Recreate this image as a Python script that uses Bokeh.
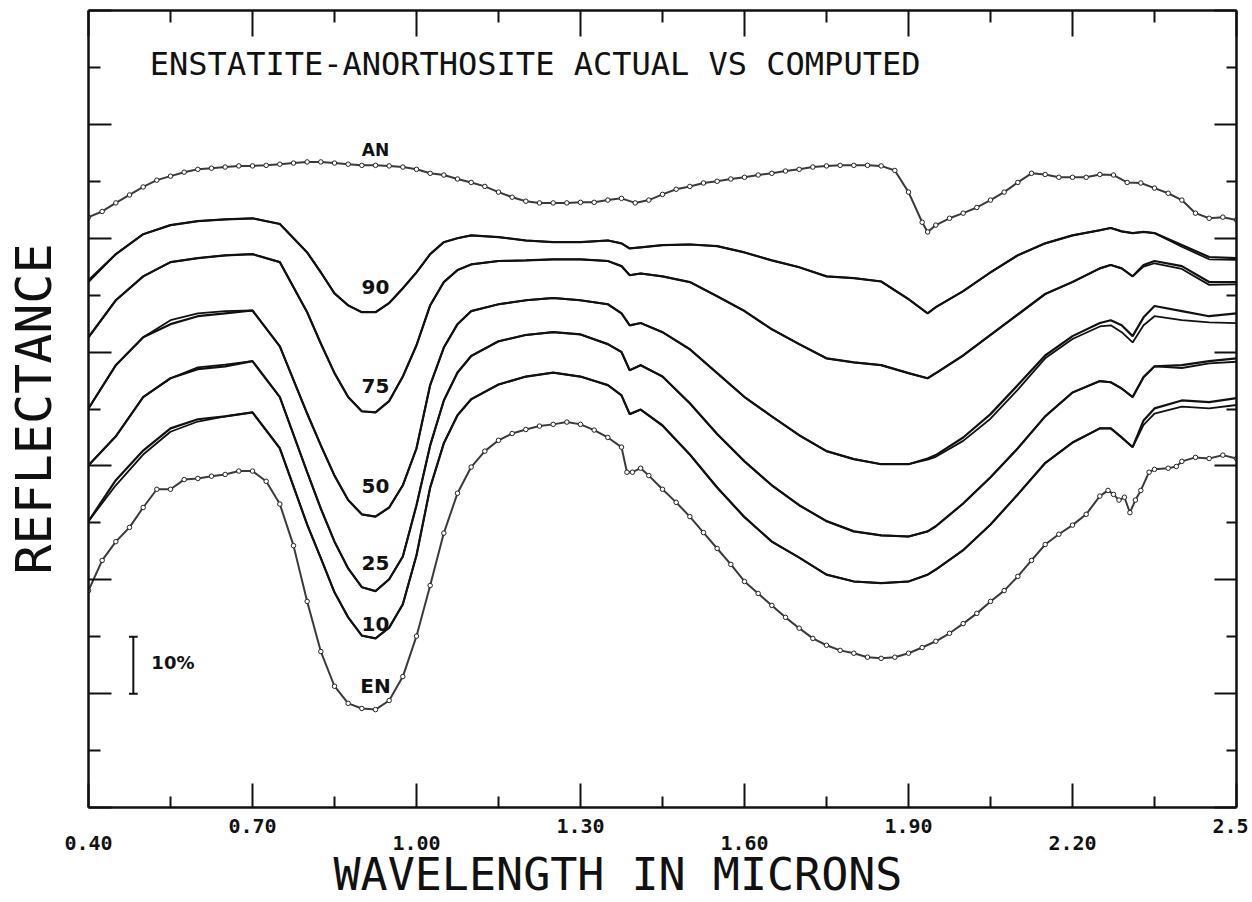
from bokeh.plotting import figure
from bokeh.models import Range1d, LinearAxis, FixedTicker, Label, Title
from bokeh.embed import file_html
from bokeh.resources import INLINE

# ---------------- data (reflectance in %, curves offset as in the figure) -------------
wl_grid = [0.40, 0.45, 0.50, 0.55, 0.60, 0.65, 0.70, 0.75, 0.80, 0.825, 0.85, 0.875,
           0.90, 0.925, 0.95, 0.975, 1.00, 1.025, 1.05, 1.075, 1.10, 1.15, 1.20, 1.25,
           1.30, 1.35, 1.375, 1.39, 1.41, 1.45, 1.50, 1.55, 1.60, 1.65, 1.70, 1.75,
           1.80, 1.85, 1.90, 1.935, 1.95, 2.00, 2.05, 2.10, 2.15, 2.20, 2.25, 2.27,
           2.29, 2.31, 2.33, 2.35, 2.40, 2.45, 2.50]

r90_act = [92.6, 97.2, 100.7, 102.3, 103.0, 103.3, 103.5, 102.5, 97.5, 94.0, 90.3, 88.2, 87.0, 87.0, 88.6, 91.2, 94.0, 97.2, 99.3, 100.0, 100.5, 100.2, 99.6, 99.3, 99.3, 99.6, 99.1, 98.2, 98.4, 98.8, 98.9, 98.6, 97.5, 96.1, 94.9, 93.3, 93.0, 92.4, 89.3, 86.8, 87.9, 90.7, 94.0, 97.0, 99.1, 100.5, 101.4, 101.8, 101.2, 100.9, 101.1, 100.9, 98.8, 96.7, 96.5]
r90_calc = [92.3, 97.2, 100.7, 102.3, 103.0, 103.3, 103.5, 102.5, 97.5, 94.0, 90.3, 88.2, 87.0, 87.0, 88.6, 91.2, 94.0, 97.2, 99.3, 100.0, 100.5, 100.2, 99.6, 99.3, 99.3, 99.6, 99.1, 98.2, 98.4, 98.8, 98.9, 98.6, 97.5, 96.1, 94.9, 93.3, 93.0, 92.4, 89.3, 86.8, 87.9, 90.7, 94.0, 97.0, 99.1, 100.5, 101.4, 101.8, 101.2, 100.9, 101.1, 100.9, 98.5, 96.3, 96.2]

r75_act = [82.6, 89.1, 93.3, 95.8, 96.5, 97.0, 97.2, 95.8, 87.0, 81.5, 76.3, 72.1, 69.6, 69.4, 71.4, 75.7, 81.2, 88.2, 92.3, 94.4, 95.4, 96.0, 96.1, 96.3, 96.3, 96.0, 95.1, 93.5, 93.8, 93.3, 92.3, 89.8, 87.2, 84.0, 81.4, 78.9, 78.2, 77.7, 76.3, 75.4, 76.3, 79.4, 83.0, 86.6, 90.2, 92.3, 94.7, 95.3, 94.7, 93.3, 95.3, 96.0, 95.1, 92.3, 92.3]
r75_calc = [82.6, 89.1, 93.3, 95.8, 96.5, 97.0, 97.2, 95.8, 87.0, 81.5, 76.3, 72.1, 69.6, 69.4, 71.4, 75.7, 81.2, 88.2, 92.3, 94.4, 95.4, 96.0, 96.1, 96.3, 96.3, 96.0, 95.1, 93.5, 93.8, 93.3, 92.3, 89.8, 87.2, 84.0, 81.4, 78.9, 78.2, 77.7, 76.3, 75.4, 76.3, 79.4, 83.0, 86.6, 90.2, 92.3, 94.7, 95.3, 94.7, 93.3, 95.0, 95.6, 94.6, 91.8, 91.9]

r50_act = [70.1, 77.7, 82.6, 84.9, 86.3, 86.8, 87.3, 81.0, 69.2, 63.6, 58.3, 54.0, 51.5, 51.1, 52.7, 56.6, 63.1, 74.2, 80.8, 84.9, 87.2, 88.4, 89.1, 89.5, 89.1, 88.4, 86.8, 84.7, 85.1, 83.5, 80.5, 76.3, 72.1, 68.7, 65.4, 62.6, 61.2, 60.3, 60.3, 61.3, 61.9, 65.0, 69.1, 74.2, 79.4, 82.8, 85.1, 85.6, 84.7, 82.8, 86.1, 88.1, 87.2, 86.3, 86.8]
r50_calc = [70.1, 77.7, 82.6, 85.6, 86.8, 87.2, 87.3, 81.0, 69.2, 63.6, 58.3, 54.0, 51.5, 51.1, 52.7, 56.6, 63.1, 74.2, 80.8, 84.9, 87.2, 88.4, 89.1, 89.5, 89.1, 88.4, 86.8, 84.7, 85.1, 83.5, 80.5, 76.3, 72.1, 68.7, 65.4, 62.6, 61.2, 60.3, 60.3, 61.1, 61.6, 64.4, 68.3, 73.4, 78.9, 82.3, 84.5, 84.7, 83.5, 81.7, 84.7, 86.3, 85.6, 85.2, 85.1]

r25_act = [60.1, 65.2, 72.1, 75.4, 77.0, 77.5, 78.4, 72.1, 58.9, 52.5, 46.7, 42.0, 38.7, 38.0, 40.1, 44.1, 53.1, 63.6, 71.5, 76.4, 79.3, 81.9, 83.0, 83.5, 83.1, 81.4, 80.0, 76.8, 77.7, 75.7, 71.0, 65.6, 60.8, 56.6, 53.1, 50.3, 48.5, 47.8, 47.6, 48.5, 49.4, 53.4, 58.0, 63.1, 68.7, 72.9, 74.9, 74.7, 73.6, 72.1, 75.6, 77.5, 77.7, 78.4, 78.9]
r25_calc = [60.1, 65.2, 72.1, 75.4, 77.3, 77.8, 78.4, 72.1, 58.9, 52.5, 46.7, 42.0, 38.7, 38.0, 40.1, 44.1, 53.1, 63.6, 71.5, 76.4, 79.3, 81.9, 83.0, 83.5, 83.1, 81.4, 80.0, 76.8, 77.7, 75.7, 71.0, 65.6, 60.8, 56.6, 53.1, 50.3, 48.5, 47.8, 47.6, 48.5, 49.4, 53.4, 58.0, 63.1, 68.7, 72.9, 74.9, 74.7, 73.6, 72.1, 75.6, 77.5, 77.2, 78.0, 78.3]

r10_act = [50.3, 57.5, 62.7, 66.6, 68.2, 68.7, 69.4, 63.1, 49.7, 43.8, 37.8, 33.4, 30.2, 29.7, 31.6, 35.7, 44.3, 56.2, 64.0, 68.9, 71.7, 74.3, 75.7, 76.4, 75.7, 74.2, 72.4, 69.1, 69.9, 67.1, 62.0, 56.2, 51.0, 46.7, 43.9, 40.9, 39.7, 39.4, 39.7, 40.9, 41.8, 45.2, 49.7, 55.0, 60.5, 64.1, 66.6, 66.6, 65.0, 63.3, 68.0, 70.1, 71.5, 71.2, 71.9]
r10_calc = [50.3, 56.6, 62.0, 66.0, 67.8, 68.7, 69.4, 63.1, 49.7, 43.8, 37.8, 33.4, 30.2, 29.7, 31.6, 35.7, 44.3, 56.2, 64.0, 68.9, 71.7, 74.3, 75.7, 76.4, 75.7, 74.2, 72.4, 69.1, 69.9, 67.1, 62.0, 56.2, 51.0, 46.7, 43.9, 40.9, 39.7, 39.4, 39.7, 40.9, 41.8, 45.2, 49.7, 55.0, 60.5, 64.1, 66.6, 66.6, 65.0, 63.3, 67.2, 69.2, 70.4, 70.1, 70.7]

wl_an = [0.400, 0.425, 0.450, 0.475, 0.500, 0.525, 0.550, 0.575, 0.600, 0.625, 0.650, 0.675,
         0.700, 0.725, 0.750, 0.775, 0.800, 0.825, 0.850, 0.875, 0.900, 0.925, 0.950, 0.975,
         1.000, 1.025, 1.050, 1.075, 1.100, 1.125, 1.150, 1.175, 1.200, 1.225, 1.250, 1.275,
         1.300, 1.325, 1.350, 1.375, 1.400, 1.425, 1.450, 1.475, 1.500, 1.525, 1.550, 1.575,
         1.600, 1.625, 1.650, 1.675, 1.700, 1.725, 1.750, 1.775, 1.800, 1.825, 1.850, 1.875,
         1.900, 1.925, 1.935, 1.950, 1.975, 2.000, 2.025, 2.050, 2.075, 2.100, 2.125, 2.150,
         2.175, 2.200, 2.225, 2.250, 2.275, 2.300, 2.325, 2.350, 2.375, 2.400, 2.425, 2.450,
         2.475, 2.500]
an = [103.7, 104.7, 106.2, 107.6, 109.0, 110.2, 110.9, 111.6, 112.1, 112.3, 112.5, 112.7,
      112.7, 112.8, 113.0, 113.2, 113.4, 113.4, 113.2, 113.0, 112.8, 112.8, 112.7, 112.5,
      112.1, 111.4, 111.1, 110.4, 109.8, 109.1, 108.1, 107.2, 106.5, 106.2, 106.2, 106.2,
      106.3, 106.3, 106.7, 107.0, 106.2, 106.7, 107.7, 108.6, 109.1, 109.7, 110.0, 110.4,
      110.7, 111.1, 111.4, 111.8, 112.1, 112.5, 112.7, 112.8, 112.8, 112.8, 112.7, 111.9,
      108.1, 102.8, 101.1, 102.3, 103.5, 104.4, 105.4, 106.7, 108.1, 109.8, 111.4, 111.2,
      110.7, 110.7, 110.7, 111.2, 111.1, 109.8, 109.7, 108.8, 107.9, 106.7, 104.4, 103.5,
      103.7, 103.2]

wl_en = [0.400, 0.425, 0.450, 0.475, 0.500, 0.525, 0.550, 0.575, 0.600, 0.625, 0.650, 0.675,
         0.700, 0.725, 0.750, 0.775, 0.800, 0.825, 0.850, 0.875, 0.900, 0.925, 0.950, 0.975,
         1.000, 1.025, 1.050, 1.075, 1.100, 1.125, 1.150, 1.175, 1.200, 1.225, 1.250, 1.275,
         1.300, 1.325, 1.350, 1.375, 1.385, 1.395, 1.410, 1.425, 1.450, 1.475, 1.500, 1.525,
         1.550, 1.575, 1.600, 1.625, 1.650, 1.675, 1.700, 1.725, 1.750, 1.775, 1.800, 1.825,
         1.850, 1.875, 1.900, 1.925, 1.950, 1.975, 2.000, 2.025, 2.050, 2.075, 2.100, 2.125,
         2.150, 2.175, 2.200, 2.225, 2.250, 2.265, 2.275, 2.285, 2.295, 2.305, 2.315, 2.325,
         2.340, 2.350, 2.375, 2.390, 2.400, 2.425, 2.450, 2.475, 2.500]
en = [38.1, 43.4, 46.7, 49.2, 52.7, 55.9, 55.9, 57.6, 57.8, 58.2, 58.5, 59.1,
      59.1, 57.3, 53.3, 46.0, 36.2, 27.4, 21.3, 18.3, 17.4, 17.2, 18.8, 23.0,
      30.1, 39.0, 48.2, 55.2, 59.8, 62.6, 64.5, 65.7, 66.4, 67.0, 67.3, 67.7,
      67.3, 66.3, 65.0, 63.3, 58.9, 58.9, 59.6, 58.3, 55.9, 53.6, 51.1, 48.3,
      45.5, 42.7, 39.7, 37.6, 35.5, 33.4, 31.5, 29.7, 28.5, 27.6, 27.1, 26.4,
      26.2, 26.4, 27.1, 28.1, 29.2, 30.6, 32.3, 34.1, 36.2, 38.1, 40.6, 43.4,
      46.2, 48.0, 49.6, 51.5, 54.7, 55.7, 55.0, 54.0, 54.5, 51.8, 54.0, 55.7,
      58.9, 59.4, 59.6, 59.9, 60.8, 61.5, 61.3, 61.9, 61.3]

x_major = [0.40, 0.70, 1.00, 1.30, 1.60, 1.90, 2.20, 2.50]
x_minor = [0.55, 0.85, 1.15, 1.45, 1.75, 2.05, 2.35]
x_labels_upper = {0.70: "0.70", 1.30: "1.30", 1.90: "1.90", 2.50: "2.5"}
x_labels_lower = {0.40: "0.40", 1.00: "1.00", 1.60: "1.60", 2.20: "2.20"}
y_major = [0, 20, 40, 60, 80, 100, 120, 140]
y_minor = [10, 30, 50, 70, 90, 110, 130]

curve_labels = ["AN", "90", "75", "50", "25", "10", "EN"]
label_y = [115.5, 91.4, 74.0, 56.4, 42.9, 32.3, 21.4]
label_x = 0.925

INK = "#111111"
MONO = "DejaVu Sans Mono"

# ---------------- figure -----------------------------------------------------------
p = figure(width=1248, height=902, x_range=Range1d(0.40, 2.50), y_range=Range1d(0, 140),
           output_backend="svg", toolbar_location=None,
           x_axis_location=None, y_axis_location=None,
           min_border_left=88, min_border_right=12, min_border_top=10, min_border_bottom=95)
p.outline_line_color = None
p.background_fill_color = "white"
p.border_fill_color = "white"
p.grid.visible = False
p.xgrid.visible = False
p.ygrid.visible = False


def style_axis(ax, major_len, minor_len):
    ax.axis_line_color = INK
    ax.axis_line_width = 2.5
    ax.major_tick_line_color = INK
    ax.minor_tick_line_color = INK
    ax.major_tick_line_width = 2
    ax.minor_tick_line_width = 2
    ax.major_tick_in = major_len
    ax.major_tick_out = 0
    ax.minor_tick_in = minor_len
    ax.minor_tick_out = 0


xt = FixedTicker(ticks=x_major, minor_ticks=x_minor)
yt = FixedTicker(ticks=y_major, minor_ticks=y_minor)

# bottom axis (upper row of labels)
ax_b = LinearAxis(ticker=xt)
style_axis(ax_b, 24, 11)
ov = {t: "" for t in x_major}
ov.update(x_labels_upper)
ax_b.major_label_overrides = ov
ax_b.major_label_standoff = 11
ax_b.major_label_text_font = MONO
ax_b.major_label_text_font_size = "20px"
ax_b.major_label_text_font_style = "bold"
ax_b.major_label_text_color = INK
p.add_layout(ax_b, "below")

# second row of labels (staggered)
ax_b2 = LinearAxis(ticker=FixedTicker(ticks=list(x_labels_lower.keys()), minor_ticks=[]))
ax_b2.axis_line_color = None
ax_b2.major_tick_line_color = None
ax_b2.minor_tick_line_color = None
ax_b2.major_tick_in = 0
ax_b2.major_tick_out = 0
ax_b2.major_label_overrides = dict(x_labels_lower)
ax_b2.major_label_standoff = 0
ax_b2.major_label_text_font = MONO
ax_b2.major_label_text_font_size = "20px"
ax_b2.major_label_text_font_style = "bold"
ax_b2.major_label_text_color = INK
p.add_layout(ax_b2, "below")

# x axis title
p.add_layout(Title(text="WAVELENGTH IN MICRONS", align="left", offset=245, standoff=-13,
                   text_font=MONO, text_font_size="45px", text_font_style="normal",
                   text_color=INK), "below")

ax_t = LinearAxis(ticker=xt)
style_axis(ax_t, 26, 12)
ax_t.major_label_text_font_size = "0px"
ax_t.major_label_standoff = 0
ax_t.major_label_overrides = {t: "" for t in x_major}
p.add_layout(ax_t, "above")

ax_l = LinearAxis(ticker=yt)
style_axis(ax_l, 23, 12)
ax_l.major_label_text_font_size = "0px"
ax_l.major_label_standoff = 0
ax_l.major_label_overrides = {t: "" for t in y_major}
ax_l.axis_label = "REFLECTANCE"
ax_l.axis_label_standoff = 26
ax_l.axis_label_text_font = MONO
ax_l.axis_label_text_font_size = "50px"
ax_l.axis_label_text_font_style = "normal"
ax_l.axis_label_text_color = INK
p.add_layout(ax_l, "left")

ax_r = LinearAxis(ticker=yt)
style_axis(ax_r, 22, 10)
ax_r.major_label_text_font_size = "0px"
ax_r.major_label_standoff = 0
ax_r.major_label_overrides = {t: "" for t in y_major}
p.add_layout(ax_r, "right")

# ---------------- curves -----------------------------------------------------------
for act, calc in [(r90_act, r90_calc), (r75_act, r75_calc), (r50_act, r50_calc),
                  (r25_act, r25_calc), (r10_act, r10_calc)]:
    p.line(wl_grid, act, line_color=INK, line_width=2.2)
    p.line(wl_grid, calc, line_color=INK, line_width=1.8)

for wl, vals in [(wl_an, an), (wl_en, en)]:
    p.line(wl, vals, line_color="#3a3a3a", line_width=2.0)
    p.scatter(wl, vals, marker="circle", size=4.5, line_color="#222222",
              fill_color="white", line_width=1.0)

# ---------------- curve labels -----------------------------------------------------
for txt, yy in zip(curve_labels, label_y):
    p.add_layout(Label(x=label_x, y=yy, text=txt, text_align="center",
                       text_baseline="middle", text_font="DejaVu Sans",
                       text_font_style="bold",
                       text_font_size="17px" if txt == "AN" else "20px",
                       text_color=INK))

# 10 % scale bar
p.segment(x0=[0.482], y0=[20], x1=[0.482], y1=[30], line_color=INK, line_width=2)
p.segment(x0=[0.474, 0.474], y0=[20, 30], x1=[0.490, 0.490], y1=[20, 30],
          line_color=INK, line_width=2)
p.add_layout(Label(x=0.515, y=25.5, text="10%", text_align="left", text_baseline="middle",
                   text_font="DejaVu Sans", text_font_style="bold", text_font_size="18px",
                   text_color=INK))

# chart title inside the frame
p.add_layout(Label(x=1.217, y=130.6, text="ENSTATITE-ANORTHOSITE ACTUAL VS COMPUTED",
                   text_align="center", text_baseline="middle", text_font=MONO,
                   text_font_size="32px", text_color=INK))

open("out.html", "w").write(file_html(p, INLINE))
